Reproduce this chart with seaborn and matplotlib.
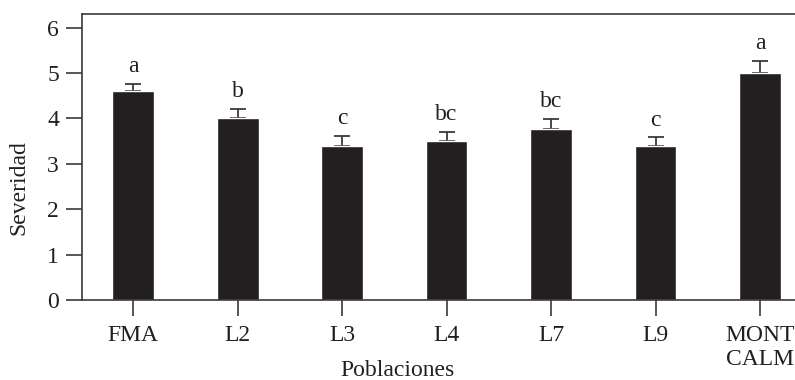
import matplotlib
matplotlib.use("Agg")
import matplotlib.pyplot as plt
import seaborn as sns
import pandas as pd

categories = ["FMA", "L2", "L3", "L4", "L7", "L9", "MONT\nCALM"]
severity = [4.61, 4.01, 3.40, 3.50, 3.77, 3.40, 5.01]
errors = [0.15, 0.20, 0.21, 0.21, 0.21, 0.18, 0.26]
letters = ["a", "b", "c", "bc", "bc", "c", "a"]

sns.set_theme(style="ticks")
plt.rcParams["font.family"] = ["Liberation Serif", "DejaVu Serif"]

df = pd.DataFrame({"Poblaciones": categories, "Severidad": severity})

fig = plt.figure(figsize=(7.95, 3.8), dpi=100)
ax = fig.add_axes([82 / 795, 1 - 300 / 380, 1 - 82 / 795, (300 - 14) / 380])

sns.barplot(data=df, x="Poblaciones", y="Severidad", color="#231f20",
            width=0.4, errorbar=None, saturation=1, ax=ax, zorder=2)

xpos = list(range(len(categories)))
ax.errorbar(xpos, severity, yerr=[[0] * len(errors), errors], fmt="none",
            ecolor="#3a3a3a", elinewidth=1.3, capsize=5.5, capthick=1.3, zorder=1)

for x, v, e, t in zip(xpos, severity, errors, letters):
    ax.annotate(t, (x, v + e), xytext=(0, 5), textcoords="offset points",
                ha="center", va="bottom", fontsize=17, color="#231f20")

ax.set_ylim(0, 6.3)
ax.set_yticks([0, 1, 2, 3, 4, 5, 6])
ax.set_xlim(-0.49, 6.335)

for side in ["left", "top", "bottom"]:
    ax.spines[side].set_visible(True)
    ax.spines[side].set_color("#3a3a3a")
    ax.spines[side].set_linewidth(1.2)
ax.spines["right"].set_visible(False)

ax.tick_params(axis="both", direction="out", length=11.5, width=1.2,
               color="#3a3a3a", labelsize=17, labelcolor="#231f20")
ax.tick_params(axis="y", pad=5)
ax.tick_params(axis="x", pad=6.5)

ax.set_xlabel("Poblaciones", fontsize=17, color="#231f20")
ax.set_ylabel("Severidad", fontsize=17, color="#231f20")
ax.yaxis.set_label_coords((29 - 82) / (795 - 82), (300 - 188) / 286)
ax.xaxis.set_label_coords((397 - 82) / (795 - 82), (300 - 360) / 286)

fig.savefig("out.png", dpi=100)
